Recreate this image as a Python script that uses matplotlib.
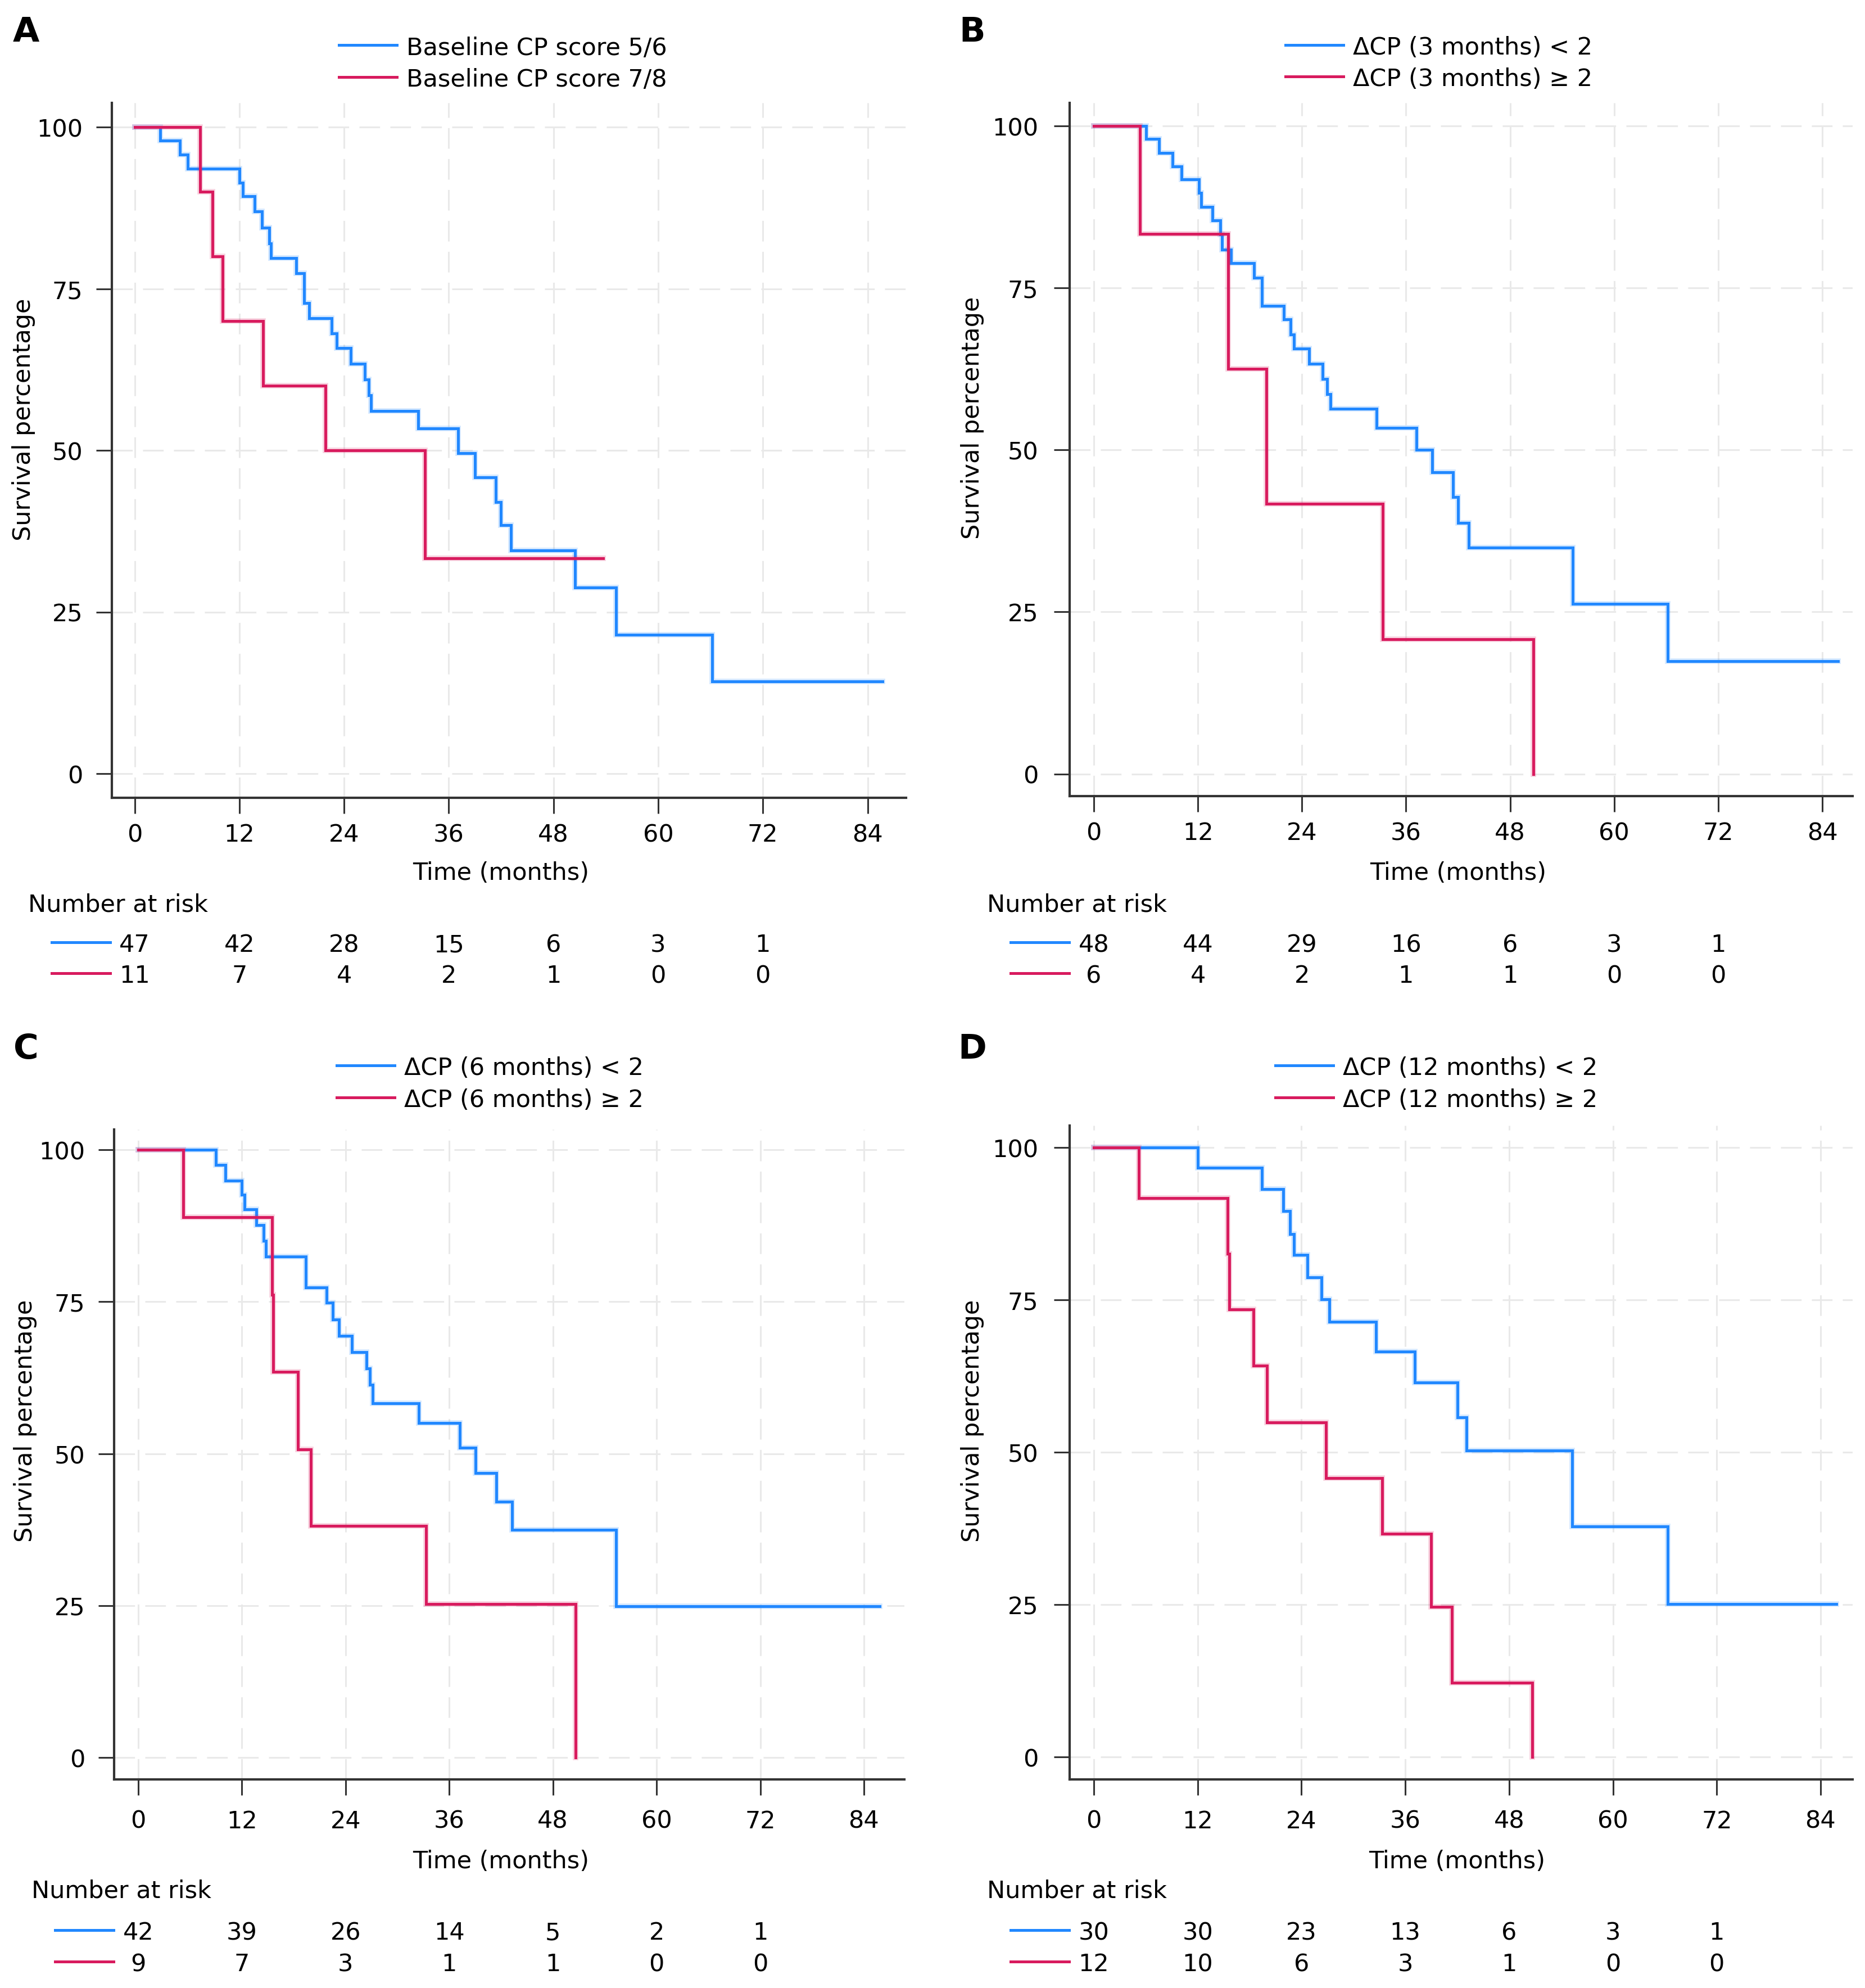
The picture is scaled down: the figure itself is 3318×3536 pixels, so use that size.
import matplotlib
matplotlib.use('Agg')
import matplotlib.pyplot as plt
import matplotlib.transforms as mtransforms
from matplotlib.lines import Line2D

W, H = 3318, 3537
DPI = 100
BLUE = '#2188FF'
RED = '#D81B5E'
FS = 31

plt.rcParams['font.family'] = ['DejaVu Sans']

x_ticks = [0, 12, 24, 36, 48, 60, 72, 84]
y_ticks = [0, 25, 50, 75, 100]
risk_times = [0, 12, 24, 36, 48, 60, 72]

# A: baseline CP score
a_labels = ['Baseline CP score 5/6', 'Baseline CP score 7/8']
a_blue_t = [0, 2.9, 5.2, 6.1, 12.0, 12.4, 13.75, 14.6, 15.4, 15.65, 18.5, 19.4, 20.0, 22.6, 23.15,
            24.8, 26.4, 26.85, 27.1, 32.5, 37.1, 39.0, 41.4, 41.96, 43.15, 50.5, 55.2, 66.2, 85.7]
a_blue_s = [100, 97.9, 95.7, 93.6, 91.4, 89.3, 87.0, 84.4, 82.0, 79.7, 77.4, 72.8, 70.4, 68.1, 65.8,
            63.4, 61.0, 58.5, 56.1, 53.4, 49.6, 45.8, 42.0, 38.4, 34.5, 28.8, 21.5, 14.3, 14.3]
a_red_t = [0, 7.5, 8.9, 10.1, 14.7, 21.9, 33.3, 53.7]
a_red_s = [100, 90, 80, 70, 60, 50, 33.3, 33.3]
a_risk_blue = [47, 42, 28, 15, 6, 3, 1]
a_risk_red = [11, 7, 4, 2, 1, 0, 0]

# B: delta CP at 3 months
b_labels = ['ΔCP (3 months) < 2', 'ΔCP (3 months) ≥ 2']
b_blue_t = [0, 6.05, 7.55, 9.05, 10.1, 12.1, 12.35, 13.7, 14.6, 14.75, 15.8, 18.5, 19.4, 21.9, 22.7,
            23.1, 24.8, 26.4, 26.9, 27.3, 32.6, 37.2, 39.0, 41.4, 42.0, 43.2, 55.2, 66.2, 85.8]
b_blue_s = [100, 98.0, 95.8, 93.7, 91.7, 89.6, 87.5, 85.4, 83.2, 80.9, 78.8, 76.5, 72.2, 70.1, 67.8,
            65.6, 63.3, 60.9, 58.6, 56.3, 53.4, 50.0, 46.5, 42.7, 38.7, 34.9, 26.2, 17.4, 17.4]
b_red_t = [0, 5.3, 15.5, 19.9, 33.3, 50.7]
b_red_s = [100, 83.3, 62.5, 41.7, 20.8, 0]
b_risk_blue = [48, 44, 29, 16, 6, 3, 1]
b_risk_red = [6, 4, 2, 1, 1, 0, 0]

# C: delta CP at 6 months
c_labels = ['ΔCP (6 months) < 2', 'ΔCP (6 months) ≥ 2']
c_blue_t = [0, 8.95, 10.1, 12.0, 12.3, 13.65, 14.5, 14.75, 19.4, 21.8, 22.5, 23.2, 24.7, 26.4, 26.8,
            27.1, 32.5, 37.2, 39.05, 41.45, 43.3, 55.3, 85.8]
c_blue_s = [100, 97.5, 94.9, 92.6, 90.2, 87.6, 85.0, 82.4, 77.3, 74.8, 72.1, 69.4, 66.7, 64.0, 61.3,
            58.3, 55.0, 51.0, 46.8, 42.1, 37.5, 24.9, 24.9]
c_red_t = [0, 5.2, 15.46, 15.64, 18.5, 20.0, 33.3, 50.6]
c_red_s = [100, 88.9, 76.1, 63.5, 50.7, 38.1, 25.3, 0]
c_risk_blue = [42, 39, 26, 14, 5, 2, 1]
c_risk_red = [9, 7, 3, 1, 1, 0, 0]

# D: delta CP at 12 months
d_labels = ['ΔCP (12 months) < 2', 'ΔCP (12 months) ≥ 2']
d_blue_t = [0, 12.0, 19.4, 21.9, 22.65, 23.1, 24.7, 26.3, 27.2, 32.6, 37.1, 42.0, 43.1, 55.3, 66.3, 85.8]
d_blue_s = [100, 96.7, 93.2, 89.6, 85.8, 82.4, 78.7, 75.1, 71.4, 66.5, 61.4, 55.7, 50.3, 37.8, 25.1, 25.1]
d_red_t = [0, 5.2, 15.45, 15.65, 18.45, 20.0, 26.8, 33.35, 39.0, 41.4, 50.7]
d_red_s = [100, 91.7, 82.6, 73.4, 64.2, 54.9, 45.8, 36.6, 24.6, 12.2, 0]
d_risk_blue = [30, 30, 23, 13, 6, 3, 1]
d_risk_red = [12, 10, 6, 3, 1, 0, 0]

panels = [
    dict(letter='A', labels=a_labels, blue=(a_blue_t, a_blue_s), red=(a_red_t, a_red_s),
         risk=(a_risk_blue, a_risk_red),
         box=(199, 184, 1612, 1420), cal=(239.5, 1543.5, 1377, 227),
         letter_xy=(46, 57), ylab_xy=(42, 746), leg_x=603, leg_y=(81, 138),
         rows=(1548, 1605, 1677, 1732), xpad=12, ypad=17),
    dict(letter='B', labels=b_labels, blue=(b_blue_t, b_blue_s), red=(b_red_t, b_red_s),
         risk=(b_risk_blue, b_risk_red),
         box=(1903, 184, 3296, 1417), cal=(1946, 3242, 1377.5, 224.5),
         letter_xy=(1730, 58), ylab_xy=(1730, 743), leg_x=2287, leg_y=(81, 137),
         rows=(1548, 1605, 1677, 1732), xpad=12, ypad=20),
    dict(letter='C', labels=c_labels, blue=(c_blue_t, c_blue_s), red=(c_red_t, c_red_s),
         risk=(c_risk_blue, c_risk_red),
         box=(203, 2010, 1609, 3166), cal=(246, 1537, 3127, 2046),
         letter_xy=(46, 1867), ylab_xy=(45, 2527), leg_x=599, leg_y=(1896, 1953),
         rows=(3307, 3359, 3434, 3490), xpad=18, ypad=17),
    dict(letter='D', labels=d_labels, blue=(d_blue_t, d_blue_s), red=(d_red_t, d_red_s),
         risk=(d_risk_blue, d_risk_red),
         box=(1903, 2003, 3296, 3166), cal=(1946, 3239, 3126, 2042),
         letter_xy=(1730, 1867), ylab_xy=(1730, 2527), leg_x=2269, leg_y=(1896, 1953),
         rows=(3307, 3359, 3434, 3490), xpad=18, ypad=20),
]


def fx(px):
    return px / W


def fy(py):
    return 1 - py / H


fig = plt.figure(figsize=(W / DPI, H / DPI), dpi=DPI)
fig.patch.set_facecolor('white')

for p in panels:
    l, t, r, b = p['box']
    x0, x84, y0, y100 = p['cal']
    ax = fig.add_axes([fx(l), fy(b), (r - l) / W, (b - t) / H])
    pxm = (x84 - x0) / 84.0
    pyp = (y0 - y100) / 100.0
    ax.set_xlim(-(x0 - l) / pxm, (r - x0) / pxm)
    ax.set_ylim(-(b - y0) / pyp, 100 + (y100 - t) / pyp)

    ax.set_axisbelow(True)
    ax.grid(True, color='#e9e9e9', lw=2.2, dashes=(12, 6))
    ax.set_xticks(x_ticks)
    ax.set_yticks(y_ticks)
    for s in ['top', 'right']:
        ax.spines[s].set_visible(False)
    for s in ['left', 'bottom']:
        ax.spines[s].set_color('#333333')
        ax.spines[s].set_linewidth(3)
    ax.tick_params(axis='both', direction='out', length=20, width=2.2, color='#333333',
                   labelsize=FS)
    ax.tick_params(axis='x', pad=p['xpad'])
    ax.tick_params(axis='y', pad=p['ypad'])

    for (tt, ss), c in [(p['blue'], BLUE), (p['red'], RED)]:
        ax.step(tt, ss, where='post', color=c, lw=7, alpha=0.2, solid_joinstyle='miter')
        ax.step(tt, ss, where='post', color=c, lw=3.6, solid_joinstyle='miter')

    # legend above the plot
    for yy, c, lab in zip(p['leg_y'], [BLUE, RED], p['labels']):
        fig.add_artist(Line2D([fx(p['leg_x']), fx(p['leg_x'] + 103)], [fy(yy), fy(yy)],
                              color=c, lw=3.6, transform=fig.transFigure))
        fig.text(fx(p['leg_x'] + 120), fy(yy), lab, fontsize=FS, ha='left', va='center_baseline')

    fig.text(fx(p['letter_xy'][0]), fy(p['letter_xy'][1]), p['letter'], fontsize=44,
             fontweight='bold', ha='center', va='center')
    fig.text(fx(p['ylab_xy'][0]), fy(p['ylab_xy'][1]), 'Survival percentage', fontsize=FS,
             rotation=90, ha='center', va='center')

    # x label and number-at-risk table
    xlab_y, nar_y, row1_y, row2_y = p['rows']
    trans = mtransforms.blended_transform_factory(ax.transData, fig.transFigure)
    ax.text(42, fy(xlab_y), 'Time (months)', transform=trans, fontsize=FS,
            ha='center', va='center_baseline')
    fig.text(fx(x0 - 190), fy(nar_y), 'Number at risk', fontsize=FS, ha='left',
             va='center_baseline')
    for yy, c, nums in zip([row1_y, row2_y], [BLUE, RED], p['risk']):
        fig.add_artist(Line2D([fx(x0 - 148), fx(x0 - 44)], [fy(yy), fy(yy)],
                              color=c, lw=3.6, transform=fig.transFigure))
        for tm, n in zip(risk_times, nums):
            ax.text(tm, fy(yy), str(n), transform=trans, fontsize=FS, ha='center',
                    va='center_baseline', clip_on=False)

fig.savefig('out.png', dpi=DPI, facecolor='white')
